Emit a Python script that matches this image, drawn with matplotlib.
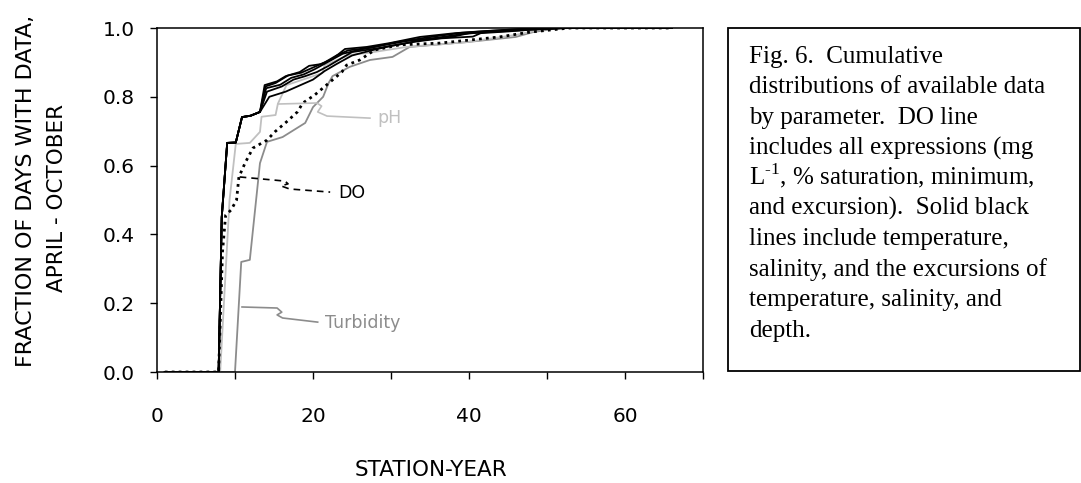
import numpy as np
import matplotlib
matplotlib.use('Agg')
import matplotlib.pyplot as plt
from matplotlib.patches import Rectangle

plt.rcParams['font.family'] = ['DejaVu Sans']
plt.rcParams['mathtext.fontset'] = 'custom'
plt.rcParams['mathtext.rm'] = 'Liberation Serif'

W, H = 1081, 483

# station-year vs fraction of days with data
start = [[1, 0], [7.9, 0], [8.3, 0.45], [9.0, 0.666], [10.1, 0.667],
         [10.9, 0.741], [12.0, 0.745], [13.2, 0.756]]
temperature = np.array(start + [
    [13.8, 0.834], [15.4, 0.845], [16.5, 0.86], [18.3, 0.872], [19.5, 0.89],
    [21.0, 0.895], [22.5, 0.91], [24.1, 0.939], [26.9, 0.945], [29.8, 0.956],
    [33.7, 0.974], [38.2, 0.985], [42.0, 0.991], [46.5, 0.997], [51.6, 1.0], [66, 1.0]])
salinity = np.array(start + [
    [14.1, 0.815], [16.0, 0.83], [17.5, 0.85], [19.0, 0.86], [20.5, 0.872],
    [22.0, 0.89], [23.5, 0.91], [25.0, 0.93], [28.0, 0.94], [31.0, 0.952],
    [34.0, 0.965], [38.0, 0.975], [40.0, 0.985], [44.0, 0.99], [48.0, 0.995],
    [52.5, 1.0], [66, 1.0]])
temp_excursion = np.array(start + [
    [14.4, 0.80], [16.5, 0.815], [18.0, 0.83], [20.0, 0.85], [21.5, 0.875],
    [23.0, 0.895], [25.0, 0.92], [27.5, 0.935], [30.0, 0.948], [33.0, 0.96],
    [36.5, 0.97], [40.5, 0.975], [41.5, 0.985], [45.0, 0.99], [49.0, 0.997],
    [53.0, 1.0], [66, 1.0]])
sal_excursion = np.array(start + [
    [14.0, 0.825], [15.8, 0.835], [17.2, 0.855], [18.8, 0.865], [20.2, 0.88],
    [21.8, 0.9], [23.8, 0.925], [26.0, 0.937], [29.0, 0.95], [32.0, 0.962],
    [36.0, 0.972], [39.0, 0.982], [43.0, 0.99], [47.0, 0.996], [52.0, 1.0], [66, 1.0]])
depth_excursion = np.array(start + [
    [13.9, 0.83], [15.2, 0.84], [16.8, 0.862], [18.5, 0.87], [20.0, 0.885],
    [21.5, 0.9], [23.0, 0.92], [24.5, 0.935], [27.5, 0.943], [30.5, 0.958],
    [34.5, 0.972], [39.0, 0.986], [43.0, 0.992], [47.5, 0.998], [51.8, 1.0], [66, 1.0]])

ph = np.array([
    [1, 0], [8.1, 0], [9.3, 0.5], [10.1, 0.663], [11.9, 0.666], [13.2, 0.698],
    [13.4, 0.742], [15.2, 0.747], [15.5, 0.78], [16.6, 0.834], [21.2, 0.869],
    [21.5, 0.892], [24.7, 0.922], [26.9, 0.927], [32.0, 0.945], [39.7, 0.959],
    [46.0, 0.98], [49.0, 0.994], [50.7, 1.0], [66, 1.0]])
do = np.array([
    [1, 0], [7.9, 0], [8.4, 0.35], [8.8, 0.456], [9.5, 0.471], [10.2, 0.50],
    [10.5, 0.567], [11.3, 0.608], [12.3, 0.651], [14.1, 0.674], [15.1, 0.698],
    [16.6, 0.727], [18.0, 0.756], [18.7, 0.782], [20.2, 0.805], [21.3, 0.826],
    [23.7, 0.872], [24.3, 0.892], [26.0, 0.907], [27.9, 0.936], [31.1, 0.951],
    [36.2, 0.956], [40.1, 0.965], [43.9, 0.974], [47.8, 0.988], [51.6, 0.997],
    [53.0, 1.0], [66, 1.0]])
turbidity = np.array([
    [1, 0], [10.0, 0], [10.8, 0.32], [11.9, 0.326], [13.2, 0.607], [14.1, 0.669],
    [16.1, 0.683], [19.0, 0.724], [20.0, 0.77], [21.3, 0.80], [22.0, 0.84],
    [22.5, 0.86], [24.7, 0.887], [27.3, 0.907], [30.2, 0.916], [32.4, 0.945],
    [39.7, 0.959], [46.0, 0.974], [48.2, 0.988], [50.7, 0.997], [52.0, 1.0], [66, 1.0]])

# callout leaders and label anchors
ph_leader = np.array([[15.5, 0.779], [20.5, 0.782], [21.1, 0.773], [20.6, 0.756],
                      [21.8, 0.744], [27.3, 0.738]])
do_leader = np.array([[10.6, 0.567], [16.4, 0.555], [16.8, 0.547], [15.9, 0.541],
                      [17.0, 0.532], [22.2, 0.523]])
turb_leader = np.array([[10.9, 0.189], [15.4, 0.186], [16.0, 0.174], [15.4, 0.166],
                        [16.1, 0.157], [20.6, 0.145]])
labels = {'pH': (28.3, 0.738), 'DO': (23.2, 0.520), 'Turbidity': (21.5, 0.142)}

x_ticks = [0, 10, 20, 30, 40, 50, 60, 70]
x_ticklabels = ['0', '', '20', '', '40', '', '60', '']
y_ticks = [0.0, 0.2, 0.4, 0.6, 0.8, 1.0]

caption = [
    "Fig. 6.  Cumulative",
    "distributions of available data",
    "by parameter.  DO line",
    "includes all expressions (mg",
    "L$^{\\mathrm{\u20101}}$, % saturation, minimum,",
    "and excursion).  Solid black",
    "lines include temperature,",
    "salinity, and the excursions of",
    "temperature, salinity, and",
    "depth.",
]

LIGHT = '#c0c0c0'
MID = '#8c8c8c'

fig = plt.figure(figsize=(W / 100, H / 100), dpi=100)
ax = fig.add_axes([157 / W, 1 - 372 / H, (703 - 157) / W, (372 - 28) / H])

ax.plot(turbidity[:, 0], turbidity[:, 1], color=MID, lw=1.3)
ax.plot(ph[:, 0], ph[:, 1], color=LIGHT, lw=1.3)
for arr in (temperature, salinity, temp_excursion, sal_excursion, depth_excursion):
    ax.plot(arr[:, 0], arr[:, 1], color='k', lw=1.3)
ax.plot(do[:, 0], do[:, 1], color='k', lw=2.0, linestyle=(0, (1, 1.5)))

ax.plot(ph_leader[:, 0], ph_leader[:, 1], color=LIGHT, lw=1.2)
ax.plot(do_leader[:, 0], do_leader[:, 1], color='k', lw=1.2, linestyle=(0, (4, 3)))
ax.plot(turb_leader[:, 0], turb_leader[:, 1], color=MID, lw=1.2)
for (lab, (lx, ly)), c in zip(labels.items(), (LIGHT, 'k', MID)):
    ax.text(lx, ly, lab, color=c, fontsize=12.5, ha='left', va='center')

ax.set_xlim(0, 70)
ax.set_ylim(0, 1.0)
ax.set_xticks(x_ticks)
ax.set_xticklabels(x_ticklabels)
ax.set_yticks(y_ticks)
ax.set_yticklabels([f'{v:.1f}' for v in y_ticks])
ax.tick_params(direction='out', length=5, width=1, labelsize=14.5)
ax.tick_params(axis='x', pad=20)
ax.tick_params(axis='y', pad=11)
for s in ax.spines.values():
    s.set_linewidth(1.1)

fig.text(431 / W, 1 - 470 / H, 'STATION-YEAR', fontsize=15.5, ha='center', va='center')
fig.text(26 / W, 1 - 367 / H, 'FRACTION OF DAYS WITH DATA,', fontsize=16,
         rotation=90, ha='center', va='bottom')
fig.text(57 / W, 1 - 198 / H, 'APRIL - OCTOBER', fontsize=15.5,
         rotation=90, ha='center', va='center')

# caption box
fig.patches.append(Rectangle((728 / W, 1 - 371 / H), (1080 - 728) / W, (371 - 28) / H,
                             transform=fig.transFigure, fill=False, lw=1.3, ec='k'))
for i, line in enumerate(caption):
    fig.text(749 / W, 1 - (63 + i * 30.4) / H, line, fontsize=18,
             family='Liberation Serif', ha='left', va='baseline')

fig.savefig('out.png', dpi=100)
